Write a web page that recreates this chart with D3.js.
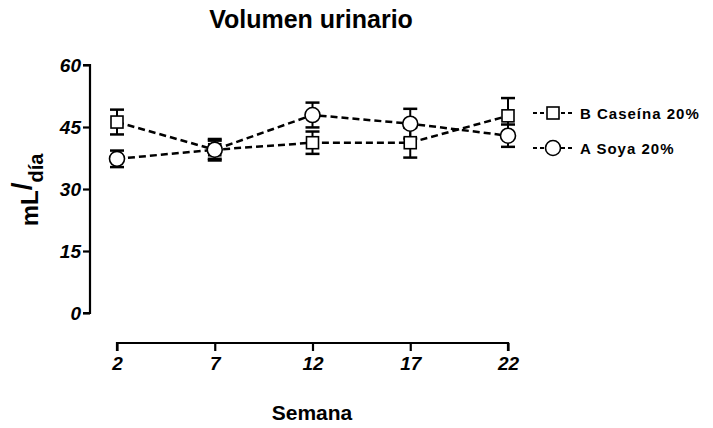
<!DOCTYPE html>
<html lang="en">
    <head>
        <meta charset="UTF-8" />
        <title>Volumen urinario</title>
        <script src="https://cdn.jsdelivr.net/npm/d3@7"></script>
        <style>
            body { margin: 0; background: #fff; }
            text { font-family: "Liberation Sans", Arial, sans-serif; font-weight: bold; }
        </style>
    </head>
    <body>
        <svg id="chart" width="713" height="428"></svg>
        <script>
            // data
            const weeks = [2, 7, 12, 17, 22]
            const yTicks = [0, 15, 30, 45, 60]
            const caseinaMean = [46.2, 39.5, 41.2, 41.2, 47.7]
            const caseinaErr = [3.0, 2.2, 2.7, 3.6, 4.3]
            const soyaMean = [37.3, 39.5, 47.9, 45.8, 42.9]
            const soyaErr = [2.0, 2.6, 3.0, 3.6, 2.7]
            const seriesNames = ['B Caseína 20%', 'A Soya 20%']

            const svg = d3.select('#chart')
            const x = d3.scaleLinear().domain([2, 22]).range([117, 508])
            const y = d3.scaleLinear().domain([0, 60]).range([313, 65])

            // axes
            const yAxis = svg.append('g')
                .attr('transform', 'translate(90,0)')
                .call(d3.axisLeft(y).tickValues(yTicks).tickSize(7).tickPadding(2))
            const xAxis = svg.append('g')
                .attr('transform', 'translate(0,343)')
                .call(d3.axisBottom(x).tickValues(weeks).tickSize(8).tickPadding(6))
            ;[yAxis, xAxis].forEach(a => {
                a.select('.domain').attr('stroke-width', 2.2)
                a.selectAll('.tick line').attr('stroke-width', 2.2)
                a.selectAll('.tick text')
                    .style('font-size', '19px')
                    .style('font-style', 'italic')
                    .attr('fill', '#000')
            })
            // y-axis domain only from 0 to 60
            yAxis.select('.domain').attr('d', `M-7,${y(60)}H0V${y(0)}H-7`)
            xAxis.select('.domain').attr('d', `M${x(2)},8V0H${x(22)}V8`)

            const series = [
                { name: seriesNames[0], mean: caseinaMean, err: caseinaErr, shape: 'square' },
                { name: seriesNames[1], mean: soyaMean, err: soyaErr, shape: 'circle' },
            ]

            const line = d3.line().x(d => x(d.w)).y(d => y(d.m))

            series.forEach(s => {
                const pts = weeks.map((w, i) => ({ w, m: s.mean[i], e: s.err[i] }))
                svg.append('path')
                    .datum(pts)
                    .attr('d', line)
                    .attr('fill', 'none')
                    .attr('stroke', '#000')
                    .attr('stroke-width', 2.5)
                    .attr('stroke-dasharray', '7,4')

                const eb = svg.append('g')
                eb.selectAll('line.bar').data(pts).enter().append('line')
                    .attr('x1', d => x(d.w)).attr('x2', d => x(d.w))
                    .attr('y1', d => y(d.m - d.e)).attr('y2', d => y(d.m + d.e))
                    .attr('stroke', '#000').attr('stroke-width', 2)
                eb.selectAll('line.cap').data(pts.flatMap(d => [d.m - d.e, d.m + d.e].map(v => ({ w: d.w, v }))))
                    .enter().append('line')
                    .attr('x1', d => x(d.w) - 7).attr('x2', d => x(d.w) + 7)
                    .attr('y1', d => y(d.v)).attr('y2', d => y(d.v))
                    .attr('stroke', '#000').attr('stroke-width', 2.5)
            })

            function marker(g, shape, cx, cy) {
                if (shape === 'square') {
                    g.append('rect')
                        .attr('x', cx - 6).attr('y', cy - 6)
                        .attr('width', 12).attr('height', 12)
                        .attr('fill', '#fff').attr('stroke', '#000').attr('stroke-width', 1.6)
                } else {
                    g.append('circle')
                        .attr('cx', cx).attr('cy', cy).attr('r', 7.5)
                        .attr('fill', '#fff').attr('stroke', '#000').attr('stroke-width', 1.6)
                }
            }

            series.forEach(s => {
                const g = svg.append('g')
                weeks.forEach((w, i) => marker(g, s.shape, x(w), y(s.mean[i])))
            })

            // legend
            series.forEach((s, i) => {
                const ly = 113 + i * 35
                const g = svg.append('g')
                g.append('line')
                    .attr('x1', 533).attr('x2', 574)
                    .attr('y1', ly).attr('y2', ly)
                    .attr('stroke', '#000').attr('stroke-width', 2)
                    .attr('stroke-dasharray', '4,3')
                marker(g, s.shape, 553, ly)
                g.append('text')
                    .attr('x', 580).attr('y', ly + 6)
                    .style('font-size', '15px')
                    .style('letter-spacing', '1px')
                    .text(s.name)
            })

            // title and axis labels
            svg.append('text')
                .attr('x', 311).attr('y', 28)
                .attr('text-anchor', 'middle')
                .style('font-size', '25px')
                .text('Volumen urinario')

            svg.append('text')
                .attr('x', 312).attr('y', 420)
                .attr('text-anchor', 'middle')
                .style('font-size', '21px')
                .text('Semana')

            const yl = svg.append('text')
                .attr('transform', 'translate(38,190) rotate(-90)')
                .attr('text-anchor', 'middle')
                .style('font-size', '24px')
                .text('mL')
            yl.append('tspan').attr('dy', -7).style('font-size', '28px').text('/')
            yl.append('tspan').attr('dy', 12).style('font-size', '20px').text('día')
        </script>
    </body>
</html>
